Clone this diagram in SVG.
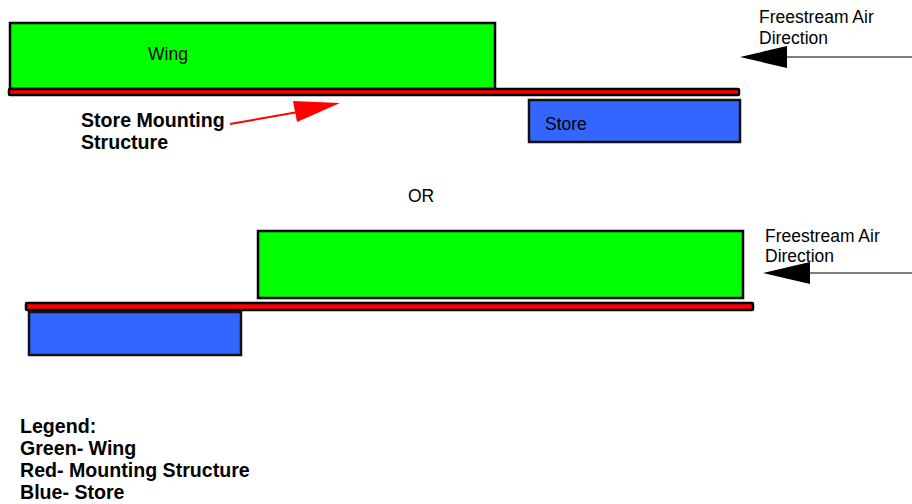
<svg xmlns="http://www.w3.org/2000/svg" width="912" height="504" viewBox="0 0 912 504">
<style>
.wing{fill:#00ff00;stroke:#000;stroke-width:2.5}
.mount{fill:#ff0000;stroke:#000;stroke-width:2.5}
.store{fill:#3366ff;stroke:#111;stroke-width:2.5}
.t{font-family:"Liberation Sans",Arial,sans-serif;font-size:17.5px;fill:#000}
.b{font-family:"Liberation Sans",Arial,sans-serif;font-size:19.6px;font-weight:bold;fill:#000}
.air{stroke:#555;stroke-width:1.5;fill:none}
</style>
<rect width="912" height="504" fill="#fff"/>
<g id="wing-top"><rect class="wing" x="10" y="23" width="485" height="66"/><text class="t" x="148" y="60">Wing</text></g>
<g id="mount-top"><rect class="mount" x="9" y="89" width="730" height="6" rx="1"/></g>
<g id="store-top"><rect class="store" x="529" y="100" width="211" height="42"/><text class="t" x="545" y="130">Store</text></g>
<g id="label-mount"><text class="b" x="81" y="127">Store Mounting</text><text class="b" x="81" y="149">Structure</text></g>
<g id="air-top"><text class="t" x="759" y="23">Freestream Air</text><text class="t" x="759" y="44">Direction</text></g>
<g id="or"><text class="t" x="421" y="202" text-anchor="middle">OR</text></g>
<g id="wing-bottom"><rect class="wing" x="258" y="231" width="485" height="67"/></g>
<g id="mount-bottom"><rect class="mount" x="26" y="303" width="727" height="7" rx="1"/></g>
<g id="store-bottom"><rect class="store" x="29" y="312" width="212" height="43"/></g>
<g id="air-bottom"><text class="t" x="765" y="242">Freestream Air</text><text class="t" x="765" y="262">Direction</text></g>
<g id="legend">
<text class="b" x="20" y="433">Legend:</text>
<text class="b" x="20" y="455">Green- Wing</text>
<text class="b" x="20" y="477">Red- Mounting Structure</text>
<text class="b" x="20" y="499">Blue- Store</text>
</g>
<g id="connectors">
<line x1="230" y1="124" x2="298" y2="112" stroke="#ff0000" stroke-width="2"/>
<polygon points="340,103 293,101 297,122" fill="#ff0000"/>
<line class="air" x1="912" y1="57" x2="786" y2="57"/>
<polygon points="740,57 787,46 787,68" fill="#000"/>
<line class="air" x1="912" y1="273" x2="809" y2="273"/>
<polygon points="763,273 810,262 810,284" fill="#000"/>
</g>
</svg>
